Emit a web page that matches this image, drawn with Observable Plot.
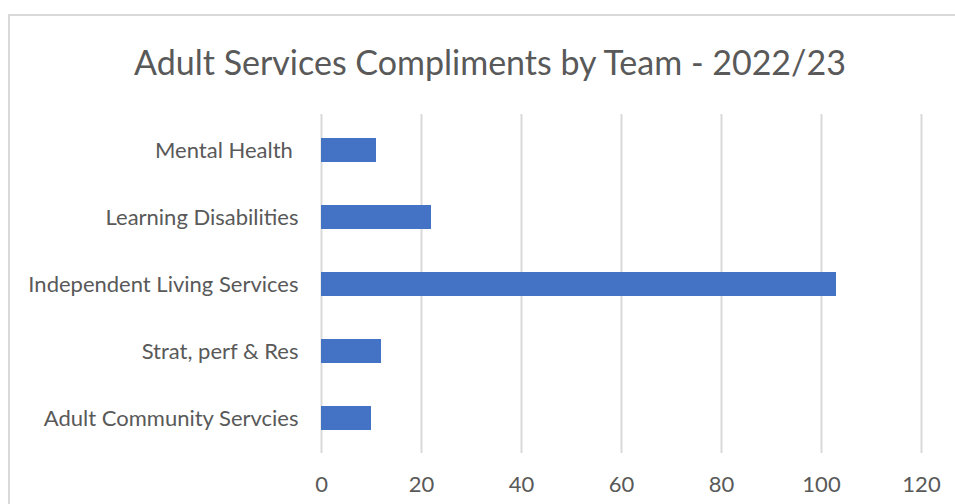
<!DOCTYPE html>
<html>
<head>
<meta charset="utf-8">
<script src="https://cdn.jsdelivr.net/npm/d3@7"></script>
<script src="https://cdn.jsdelivr.net/npm/@observablehq/plot@0.6"></script>
<style>
  html, body { margin: 0; padding: 0; background: #fff; }
  #wrap { position: relative; width: 955px; height: 504px; overflow: hidden; font-family: Lato, "Open Sans", sans-serif; }
  #frame { position: absolute; left: 8px; top: 14px; width: 960px; height: 520px; border-top: 2px solid #d9d9d9; border-left: 2px solid #d9d9d9; box-sizing: border-box; }
  #title { position: absolute; left: 0; top: 40px; width: 980px; text-align: center; font-size: 34px; color: #595959; line-height: 44px; }
  #chart { position: absolute; left: 0; top: 110px; }
</style>
</head>
<body>
<div id="wrap">
  <div id="frame"></div>
  <div id="title">Adult Services Compliments by Team - 2022/23</div>
  <div id="chart"></div>
</div>
<script>
const categories = ["Mental Health ", "Learning Disabilities", "Independent Living Services", "Strat, perf & Res", "Adult Community Servcies"];
const values = [11, 22, 103, 12, 10];
const xTicks = [0, 20, 40, 60, 80, 100, 120];

const data = categories.map((c, i) => ({team: c, count: values[i]}));

const chart = Plot.plot({
  width: 955,
  height: 394,
  marginTop: 4,
  marginBottom: 51,
  marginLeft: 321,
  marginRight: 34,
  style: {fontFamily: "Lato, 'Open Sans', sans-serif", fontSize: "22px", color: "#595959", background: "transparent"},
  x: {domain: [0, 120], ticks: xTicks, tickSize: 0, tickPadding: 23, label: null},
  y: {domain: categories, paddingInner: 0.645, paddingOuter: 0.3225, tickSize: 0, tickPadding: 23, label: null},
  marks: [
    Plot.ruleX(xTicks, {stroke: "#d9d9d9", strokeWidth: 2, strokeOpacity: 1}),
    Plot.barX(data, {x: "count", y: "team", fill: "#4472c4"})
  ]
});
document.getElementById("chart").appendChild(chart);
</script>
</body>
</html>
